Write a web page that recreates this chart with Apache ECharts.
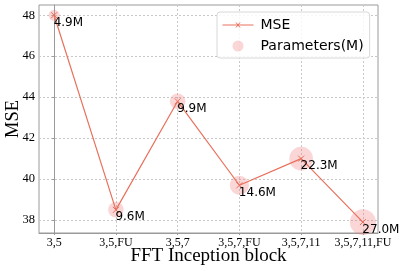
<!DOCTYPE html>
<html><head><meta charset="utf-8">
<script src="https://cdn.jsdelivr.net/npm/echarts@6/dist/echarts.min.js"></script>
<style>html,body{margin:0;padding:0;background:#fff}#c{width:407px;height:271px}</style>
</head><body><div id="c"></div>
<script>
const categories = ['3,5', '3,5,FU', '3,5,7', '3,5,7,FU', '3,5,7,11', '3,5,7,11,FU'];
const mseValues = [48.0, 38.5, 43.8, 39.7, 41.0, 37.9];
const paramValues = [4.9, 9.6, 9.9, 14.6, 22.3, 27.0];
const yTicks = [38, 40, 42, 44, 46, 48];
const xTicks = [0, 1, 2, 3, 4, 5];

const lineColor = '#e8705c';
const serif = '"Liberation Serif", "Times New Roman", serif';
const sans = '"DejaVu Sans", sans-serif';

const chart = echarts.init(document.getElementById('c'), null, {renderer: 'canvas'});
const lineData = mseValues.map((v, i) => [i, v, paramValues[i]]);
const scatterData = mseValues.map((v, i) => [i, v, paramValues[i]]);

chart.setOption({
  animation: false,
  grid: {left: 39, right: 29, top: 5, bottom: 38, show: true, borderColor: '#9a9a9a', borderWidth: 1, containLabel: false, outerBoundsMode: 'none'},
  legend: {
    orient: 'vertical', left: 217, top: 12, padding: [6, 6, 5, 3],
    itemWidth: 31, itemHeight: 11, itemGap: 7,
    backgroundColor: 'rgba(255,255,255,0.85)', borderColor: '#d8d8d8', borderWidth: 1, borderRadius: 3,
    textStyle: {fontFamily: sans, fontSize: 14, color: '#000', padding: [0, 0, 0, 2]},
    data: [
      {name: 'MSE', icon: 'path://M0,5L31,5M13.5,2.5L17.5,7.5M17.5,2.5L13.5,7.5',
       itemStyle: {color: 'none', borderColor: lineColor, borderWidth: 1}},
      {name: 'Parameters(M)', icon: 'circle'}
    ]
  },
  xAxis: {
    type: 'value', min: -0.245, max: 5.245,
    name: 'FFT Inception block', nameLocation: 'middle', nameGap: 14, nameMoveOverlap: false,
    nameTextStyle: {fontFamily: serif, fontSize: 19, color: '#000', verticalAlign: 'top'},
    axisLine: {show: true, lineStyle: {color: '#9a9a9a'}},
    axisTick: {show: true, customValues: xTicks, length: 2, lineStyle: {color: '#9a9a9a'}},
    axisLabel: {customValues: xTicks, formatter: v => categories[Math.round(v)], fontFamily: serif, fontSize: 12, color: '#000', margin: 4},
    splitLine: {show: true, lineStyle: {color: '#c8c8c8', type: [2, 2]}}
  },
  yAxis: {
    type: 'value', min: 37.37, max: 48.5,
    name: 'MSE', nameLocation: 'middle', nameGap: 16, nameMoveOverlap: false,
    nameTextStyle: {fontFamily: serif, fontSize: 18.5, color: '#000'},
    axisLine: {show: true, lineStyle: {color: '#9a9a9a'}},
    axisTick: {show: true, customValues: yTicks, length: 2, lineStyle: {color: '#9a9a9a'}},
    axisLabel: {customValues: yTicks, fontFamily: serif, fontSize: 12.5, color: '#000', margin: 4},
    splitLine: {show: true, lineStyle: {color: '#c8c8c8', type: [2, 2]}}
  },
  series: [
    {
      name: 'Parameters(M)', type: 'scatter', data: scatterData, z: 1,
      symbolSize: d => 5.0 * Math.sqrt(d[2]),
      itemStyle: {color: 'rgba(240,128,128,0.4)'}
    },
    {
      name: 'MSE', type: 'line', data: lineData, z: 3,
      symbol: 'path://M0,0L10,10M10,0L0,10', symbolSize: 6,
      itemStyle: {color: lineColor, borderColor: lineColor, borderWidth: 1},
      lineStyle: {color: lineColor, width: 1.2},
      label: {
        show: true, position: [3, 5], align: 'left', verticalAlign: 'top',
        formatter: p => p.data[2].toFixed(1) + 'M',
        fontFamily: sans, fontSize: 12, color: '#000'
      }
    }
  ]
});
</script></body></html>
